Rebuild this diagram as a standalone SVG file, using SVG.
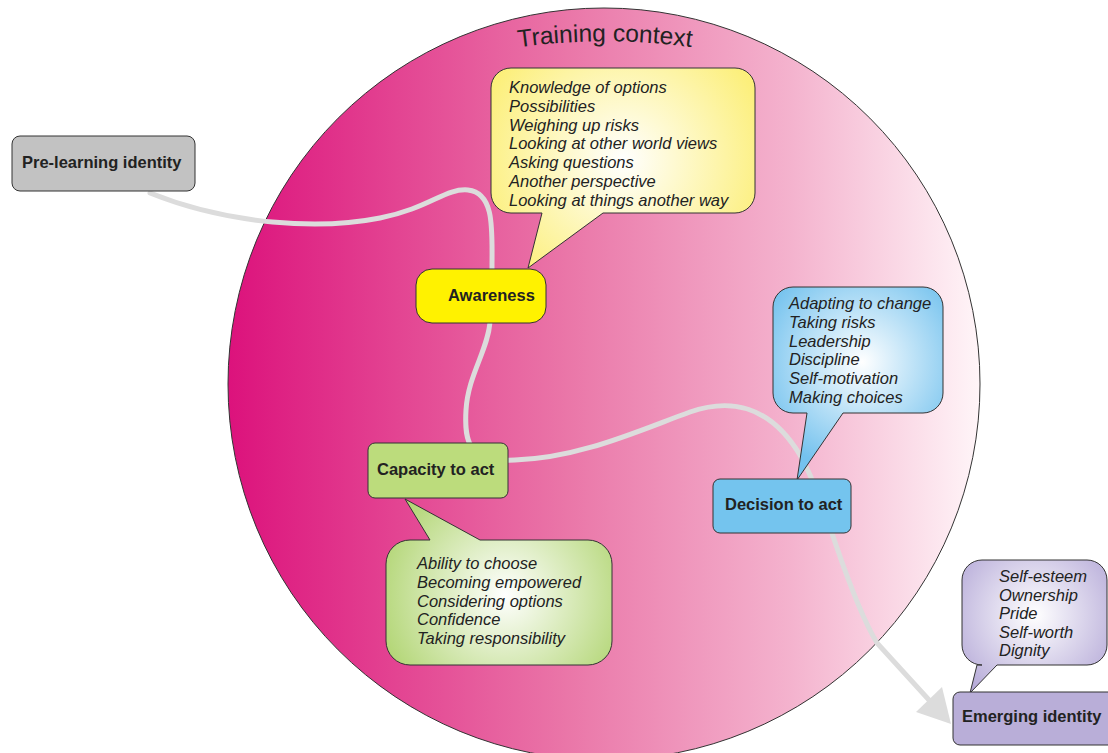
<svg xmlns="http://www.w3.org/2000/svg" width="1108" height="753" viewBox="0 0 1108 753">
<defs>
<linearGradient id="ctx" x1="0" y1="0" x2="1" y2="0">
<stop offset="0" stop-color="#dc127c"/>
<stop offset="0.45" stop-color="#ea76a8"/>
<stop offset="0.75" stop-color="#f4b3ce"/>
<stop offset="1" stop-color="#fff5f8"/>
</linearGradient>
<radialGradient id="gy" gradientUnits="userSpaceOnUse" cx="623" cy="160" r="150">
<stop offset="0" stop-color="#ffffff"/>
<stop offset="1" stop-color="#fcef7a"/>
</radialGradient>
<radialGradient id="gb" gradientUnits="userSpaceOnUse" cx="862" cy="362" r="110">
<stop offset="0" stop-color="#ffffff"/>
<stop offset="1" stop-color="#74c2ee"/>
</radialGradient>
<radialGradient id="gg" gradientUnits="userSpaceOnUse" cx="505" cy="595" r="130">
<stop offset="0" stop-color="#ffffff"/>
<stop offset="1" stop-color="#b3d676"/>
</radialGradient>
<radialGradient id="gp" gradientUnits="userSpaceOnUse" cx="1035" cy="615" r="100">
<stop offset="0" stop-color="#ffffff"/>
<stop offset="1" stop-color="#b2a6d6"/>
</radialGradient>
<path id="arc" d="M 460,58 A 640 640 0 0 1 750,58"/>
</defs>
<style>
.node{stroke:#333;stroke-width:1}
.lbl{font-family:"Liberation Sans",Arial,sans-serif;font-weight:bold;font-size:16.5px;fill:#222}
.bub{stroke:#333;stroke-width:1}
.it{font-family:"Liberation Sans",Arial,sans-serif;font-style:italic;font-size:16.5px;fill:#222}
.conn{fill:none;stroke:#dcdcdc;stroke-width:5;stroke-linecap:round}
</style>

<g id="context">
<circle cx="604" cy="384" r="376" fill="url(#ctx)" stroke="#333" stroke-width="1"/>
<text font-family="'Liberation Sans',Arial,sans-serif" font-size="24.5" fill="#222" text-anchor="middle"><textPath href="#arc" startOffset="50%">Training context</textPath></text>
</g>

<g id="connectors">
<path class="conn" d="M150,193 C230,225 320,230 380,218 C430,208 445,188 468,190 C495,193 492,230 492,268 L490,322 C488,350 468,375 466,410 C464,445 470,462 515,460 C580,458 640,430 690,412 C730,398 770,405 800,455 C815,482 826,515 836,545 C848,580 862,618 877,643 L929,700"/>
<polygon points="951,724 916,712 942,687" fill="#dcdcdc"/>
</g>

<g id="pre-learning">
<rect class="node" x="12" y="136" width="183" height="55" rx="8" fill="#c2c2c2"/>
<text class="lbl" x="22" y="168">Pre-learning identity</text>
</g>

<g id="awareness-callout">
<path class="bub" fill="url(#gy)" d="M511,68 H735 A20,20 0 0 1 755,88 V193 A20,20 0 0 1 735,213 H603 L528,268 L542,213 H511 A20,20 0 0 1 491,193 V88 A20,20 0 0 1 511,68 Z"/>
<text class="it" x="509"><tspan x="509" y="93">Knowledge of options</tspan><tspan x="509" y="111.8">Possibilities</tspan><tspan x="509" y="130.6">Weighing up risks</tspan><tspan x="509" y="149.4">Looking at other world views</tspan><tspan x="509" y="168.2">Asking questions</tspan><tspan x="509" y="187">Another perspective</tspan><tspan x="509" y="205.8">Looking at things another way</tspan></text>
</g>

<g id="awareness">
<rect class="node" x="416" y="269" width="130" height="54" rx="16" fill="#fff200"/>
<text class="lbl" x="448" y="301">Awareness</text>
</g>

<g id="decision-callout">
<path class="bub" fill="url(#gb)" d="M793,287 H923 A20,20 0 0 1 943,307 V393 A20,20 0 0 1 923,413 H843 L797,480 L807,413 H793 A20,20 0 0 1 773,393 V307 A20,20 0 0 1 793,287 Z"/>
<text class="it"><tspan x="789" y="309">Adapting to change</tspan><tspan x="789" y="327.8">Taking risks</tspan><tspan x="789" y="346.6">Leadership</tspan><tspan x="789" y="365.4">Discipline</tspan><tspan x="789" y="384.2">Self-motivation</tspan><tspan x="789" y="403">Making choices</tspan></text>
</g>

<g id="capacity">
<rect class="node" x="368" y="443" width="140" height="55" rx="7" fill="#bcdc7c"/>
<text class="lbl" x="377" y="475">Capacity to act</text>
</g>

<g id="capacity-callout">
<path class="bub" fill="url(#gg)" d="M410,540 H430 L405,499 L480,540 H588 A24,24 0 0 1 612,564 V641 A24,24 0 0 1 588,665 H410 A24,24 0 0 1 386,641 V564 A24,24 0 0 1 410,540 Z"/>
<text class="it"><tspan x="417" y="569">Ability to choose</tspan><tspan x="417" y="587.8">Becoming empowered</tspan><tspan x="417" y="606.6">Considering options</tspan><tspan x="417" y="625.4">Confidence</tspan><tspan x="417" y="644.2">Taking responsibility</tspan></text>
</g>

<g id="decision">
<rect class="node" x="713" y="479" width="138" height="54" rx="7" fill="#74c4ee"/>
<text class="lbl" x="725" y="510">Decision to act</text>
</g>

<g id="emerging-callout">
<path class="bub" fill="url(#gp)" d="M982,560 H1087 A20,20 0 0 1 1107,580 V645 A20,20 0 0 1 1087,665 H997 L970,693 L977,665 H982 A20,20 0 0 1 962,645 V580 A20,20 0 0 1 982,560 Z"/>
<text class="it"><tspan x="999" y="582">Self-esteem</tspan><tspan x="999" y="600.6">Ownership</tspan><tspan x="999" y="619.2">Pride</tspan><tspan x="999" y="637.8">Self-worth</tspan><tspan x="999" y="656.4">Dignity</tspan></text>
</g>

<g id="emerging">
<rect class="node" x="953" y="692" width="165" height="53" rx="7" fill="#b9aed8"/>
<text class="lbl" x="962" y="722">Emerging identity</text>
</g>
</svg>
